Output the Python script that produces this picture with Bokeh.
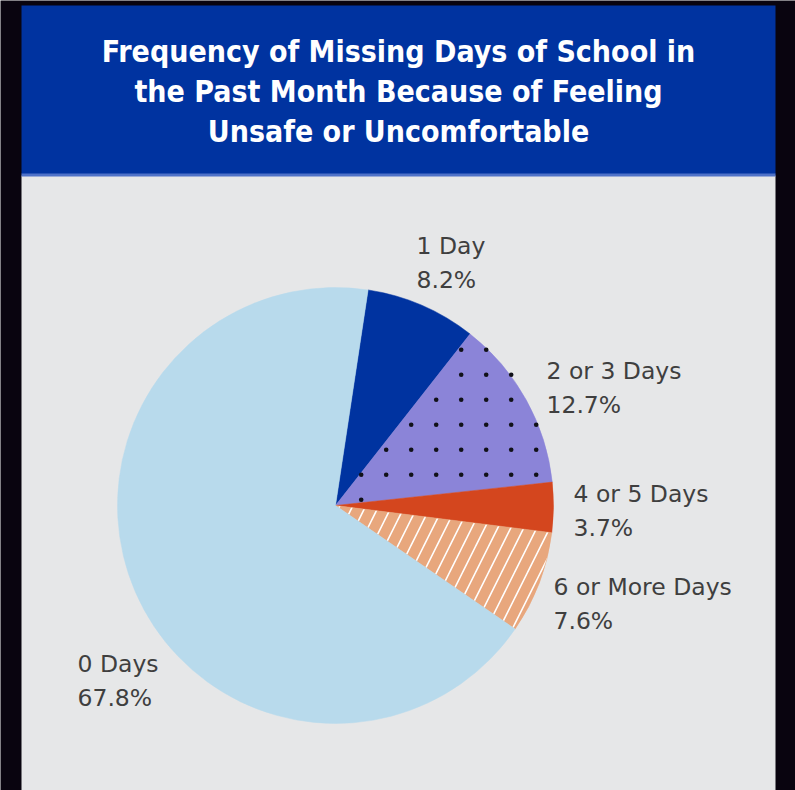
import math
from bokeh.plotting import figure
from bokeh.models import Range1d, BoxAnnotation
from bokeh.core.properties import value
from bokeh.embed import file_html
from bokeh.resources import INLINE

# ---------------- data ----------------
categories = ["1 Day", "2 or 3 Days", "4 or 5 Days", "6 or More Days", "0 Days"]
percents = [8.2, 12.7, 3.7, 7.6, 67.8]
title_lines = ["Frequency of Missing Days of School in",
               "the Past Month Because of Feeling",
               "Unsafe or Uncomfortable"]

# ---------------- style ----------------
colors = ["#0033A0", "#8B84D8", "#D4461E", "#E8A77D", "#B8DAEC"]
textures = [None, "dots", None, "lines", None]
BLUE = "#0033A0"
GRAY = "#E6E7E8"
DARK = "#09040F"
TEXT = "#3F3F3F"
TITLE_FONT = value("DejaVu Sans Condensed, sans-serif")
LABEL_FONT = value("DejaVu Sans, sans-serif")

W, H = 795, 790
PANEL_L, PANEL_R = 21, 775  # screen x of the panel
# data coordinates: x = screen x, y = H - screen y
cx, cy, r = 335, H - 505, 218
start_offset_deg = 8.6   # first slice starts 8.6 deg clockwise from 12 o'clock

# dot texture: grid pitch and phase (screen px)
DOT_PITCH, DOT_X0, DOT_Y0, DOT_SIZE = 25, 460.7, 349.3, 4.6

# label anchors (left x, screen y of first line) per category
label_pos = {
    "1 Day": (416, 245),
    "2 or 3 Days": (546, 370),
    "4 or 5 Days": (573, 493),
    "6 or More Days": (553, 586),
    "0 Days": (77, 663),
}
line_gap = 34

p = figure(width=W, height=H, output_backend="svg", toolbar_location=None,
           x_range=Range1d(0, W), y_range=Range1d(0, H),
           min_border=0, min_border_left=0, min_border_right=0,
           min_border_top=0, min_border_bottom=0)
p.axis.visible = False
p.grid.visible = False
p.outline_line_color = None
p.background_fill_color = DARK
p.border_fill_color = DARK

# panel body and title band
for bottom, top, col in [(-100, H - 175, GRAY), (H - 174, H - 5, BLUE),
                         (H - 176, H - 173, "#4F72C8")]:
    p.add_layout(BoxAnnotation(left=PANEL_L, right=PANEL_R, bottom=bottom, top=top,
                               fill_color=col, fill_alpha=1, line_color=None,
                               level="underlay"))


def dot_grid(a0, a1):
    """Texture dots (a regular grid) that fall inside the sector a0..a1 (clockwise from top)."""
    xs, ys = [], []
    k0 = math.floor((cx - r - DOT_X0) / DOT_PITCH)
    k1 = math.ceil((cx + r - DOT_X0) / DOT_PITCH)
    m0 = math.floor(((H - cy) - r - DOT_Y0) / DOT_PITCH)
    m1 = math.ceil(((H - cy) + r - DOT_Y0) / DOT_PITCH)
    for k in range(k0, k1 + 1):
        for m in range(m0, m1 + 1):
            sx = DOT_X0 + k * DOT_PITCH
            sy = DOT_Y0 + m * DOT_PITCH
            dx, dy = sx - cx, (H - sy) - cy
            rr = math.hypot(dx, dy)
            if rr < 6 or rr > r + 1:
                continue
            ang = math.atan2(dx, dy) % (2 * math.pi)
            pad = 0.3 / rr
            if a0 + pad < ang < a1 - pad:
                xs.append(sx)
                ys.append(H - sy)
    return xs, ys


# pie wedges (clockwise from start offset)
total = sum(percents)
cum = 0.0
for cat, v, col, tex in zip(categories, percents, colors, textures):
    a0 = math.radians(start_offset_deg) + 2 * math.pi * cum / total
    a1 = math.radians(start_offset_deg) + 2 * math.pi * (cum + v) / total
    cum += v
    kw = dict(x=cx, y=cy, radius=r, start_angle=math.pi / 2 - a1, end_angle=math.pi / 2 - a0,
              fill_color=col, line_color=col, line_width=0.5)
    if tex == "lines":
        kw.update(hatch_pattern="/", hatch_color="white", hatch_scale=26, hatch_weight=1.6)
    p.wedge(**kw)
    if tex == "dots":
        xs, ys = dot_grid(a0, a1)
        p.scatter(x=xs, y=ys, size=DOT_SIZE, marker="circle",
                  fill_color="#111118", line_color=None)

# labels
for cat, v in zip(categories, percents):
    lx, ly = label_pos[cat]
    p.text(x=[lx], y=[H - ly], text=[cat], text_font=LABEL_FONT,
           text_font_size="23.5px", text_color=TEXT, text_baseline="middle", text_align="left")
    p.text(x=[lx], y=[H - ly - line_gap], text=[f"{v}%"], text_font=LABEL_FONT,
           text_font_size="23.5px", text_color=TEXT, text_baseline="middle", text_align="left")

# title
for i, t in enumerate(title_lines):
    p.text(x=[(PANEL_L + PANEL_R) / 2], y=[H - (51 + 40 * i)], text=[t],
           text_font=TITLE_FONT, text_font_style="bold", text_font_size="30px",
           text_color="white", text_align="center", text_baseline="middle")

open("out.html", "w").write(file_html(p, INLINE))
